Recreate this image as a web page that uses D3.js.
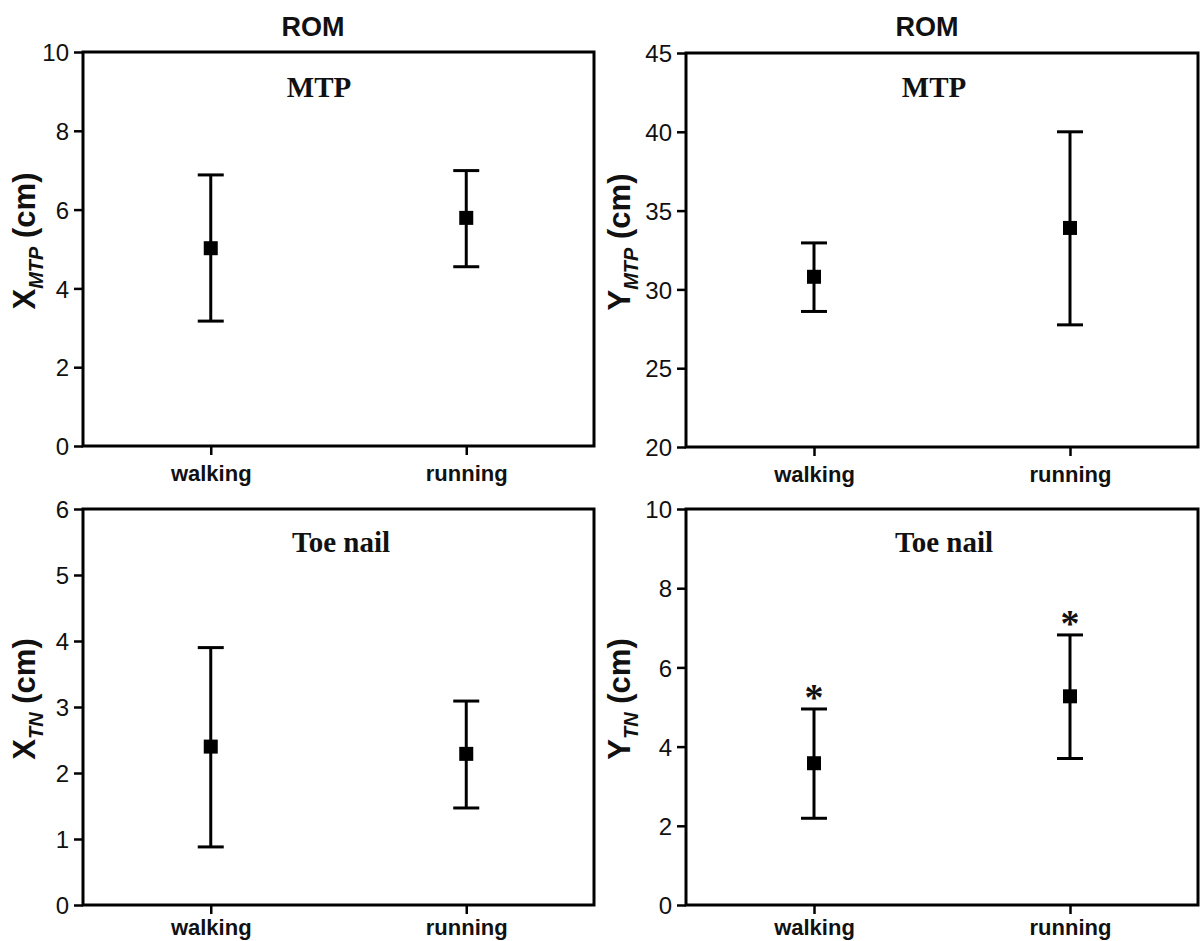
<!DOCTYPE html>
<html>
<head>
<meta charset="utf-8">
<script src="https://cdn.jsdelivr.net/npm/d3@7"></script>
<style>
  body { margin: 0; background: #fff; }
  svg { display: block; }
</style>
</head>
<body>
<script>
// ---------- data ----------
const categories = ["walking", "running"];

const xmtpMean = [5.02, 5.79];
const xmtpLow  = [3.17, 4.55];
const xmtpHigh = [6.88, 6.99];
const xmtpTicks = [0, 2, 4, 6, 8, 10];

const ymtpMean = [30.8, 33.9];
const ymtpLow  = [28.6, 27.75];
const ymtpHigh = [32.95, 40.0];
const ymtpTicks = [20, 25, 30, 35, 40, 45];

const xtnMean = [2.40, 2.29];
const xtnLow  = [0.88, 1.47];
const xtnHigh = [3.90, 3.09];
const xtnTicks = [0, 1, 2, 3, 4, 5, 6];

const ytnMean = [3.58, 5.27];
const ytnLow  = [2.19, 3.70];
const ytnHigh = [4.95, 6.82];
const ytnTicks = [0, 2, 4, 6, 8, 10];
const ytnMarks = ["*", "*"];

const noMarks = ["", ""];

// ---------- layout ----------
const W = 1204, H = 941;
const svg = d3.select("body").append("svg").attr("width", W).attr("height", H);

const panels = [
  { left: 83, top: 52, right: 594, bottom: 446, mean: xmtpMean, low: xmtpLow, high: xmtpHigh,
    ticks: xmtpTicks, letter: "X", sub: "MTP", inner: "MTP", innerX: 319, innerY: 97,
    head: "ROM", headX: 313, marks: noMarks, labelX: 35, xPad: 10 },
  { left: 686, top: 53, right: 1198, bottom: 447, mean: ymtpMean, low: ymtpLow, high: ymtpHigh,
    ticks: ymtpTicks, letter: "Y", sub: "MTP", inner: "MTP", innerX: 934, innerY: 97,
    head: "ROM", headX: 927, marks: noMarks, labelX: 630, xPad: 10 },
  { left: 83, top: 509, right: 594, bottom: 905, mean: xtnMean, low: xtnLow, high: xtnHigh,
    ticks: xtnTicks, letter: "X", sub: "TN", inner: "Toe nail", innerX: 341, innerY: 552,
    head: null, marks: noMarks, labelX: 35, xPad: 5 },
  { left: 686, top: 509, right: 1198, bottom: 905, mean: ytnMean, low: ytnLow, high: ytnHigh,
    ticks: ytnTicks, letter: "Y", sub: "TN", inner: "Toe nail", innerX: 944, innerY: 552,
    head: null, marks: ytnMarks, labelX: 630, xPad: 5 }
];

const sans = "Arial, 'Liberation Sans', Helvetica, sans-serif";
const serif = "'Times New Roman', 'Liberation Serif', serif";

panels.forEach(p => {
  const g = svg.append("g");
  const x = d3.scalePoint().domain(categories).range([p.left, p.right]).padding(0.5);
  const y = d3.scaleLinear().domain([p.ticks[0], p.ticks[p.ticks.length - 1]]).range([p.bottom, p.top]);

  // y axis
  const ya = g.append("g").attr("transform", `translate(${p.left},0)`)
    .call(d3.axisLeft(y).tickValues(p.ticks).tickSize(9).tickSizeOuter(0).tickPadding(5).tickFormat(d3.format("d")));
  ya.select(".domain").remove();
  ya.selectAll(".tick line").attr("stroke", "#000").attr("stroke-width", 2.5);
  ya.selectAll(".tick text").attr("font-family", sans).attr("font-size", 24).attr("fill", "#111")
    .attr("dy", "0.36em");

  // x axis
  const xa = g.append("g").attr("transform", `translate(0,${p.bottom})`)
    .call(d3.axisBottom(x).tickSize(9).tickSizeOuter(0).tickPadding(p.xPad));
  xa.select(".domain").remove();
  xa.selectAll(".tick line").attr("stroke", "#000").attr("stroke-width", 2.5);
  xa.selectAll(".tick text").attr("font-family", sans).attr("font-size", 22).attr("font-weight", "bold")
    .attr("fill", "#111");

  // frame
  g.append("rect").attr("x", p.left).attr("y", p.top)
    .attr("width", p.right - p.left).attr("height", p.bottom - p.top)
    .attr("fill", "none").attr("stroke", "#000").attr("stroke-width", 3);

  // error bars
  const cap = 13;
  categories.forEach((c, i) => {
    const cx = x(c);
    g.append("line").attr("x1", cx).attr("x2", cx).attr("y1", y(p.low[i])).attr("y2", y(p.high[i]))
      .attr("stroke", "#000").attr("stroke-width", 3);
    [p.low[i], p.high[i]].forEach(v => {
      g.append("line").attr("x1", cx - cap).attr("x2", cx + cap).attr("y1", y(v)).attr("y2", y(v))
        .attr("stroke", "#000").attr("stroke-width", 3);
    });
    g.append("rect").attr("x", cx - 7).attr("y", y(p.mean[i]) - 7).attr("width", 14).attr("height", 14)
      .attr("fill", "#000");
    if (p.marks[i]) {
      g.append("text").attr("x", cx).attr("y", y(p.high[i]) + 1).attr("text-anchor", "middle")
        .attr("font-family", serif).attr("font-weight", "bold").attr("font-size", 38)
        .attr("fill", "#111").text(p.marks[i]);
    }
  });

  // inner title
  g.append("text").attr("x", p.innerX).attr("y", p.innerY).attr("text-anchor", "middle")
    .attr("font-family", serif).attr("font-weight", "bold").attr("font-size", 29)
    .attr("fill", "#111").text(p.inner);

  // header
  if (p.head) {
    g.append("text").attr("x", p.headX).attr("y", 36).attr("text-anchor", "middle")
      .attr("font-family", sans).attr("font-weight", "bold").attr("font-size", 27)
      .attr("fill", "#111").text(p.head);
  }

  // y axis label
  const cy = (p.top + p.bottom) / 2 - 8;
  const t = g.append("text").attr("transform", `translate(${p.labelX},${cy}) rotate(-90)`)
    .attr("text-anchor", "middle").attr("font-family", sans).attr("font-weight", "bold")
    .attr("font-size", 31).attr("fill", "#111");
  t.append("tspan").text(p.letter);
  t.append("tspan").attr("font-size", 20).attr("font-style", "italic").attr("dy", 8).text(p.sub);
  t.append("tspan").attr("dy", -8).text(" (cm)");
});
</script>
</body>
</html>
